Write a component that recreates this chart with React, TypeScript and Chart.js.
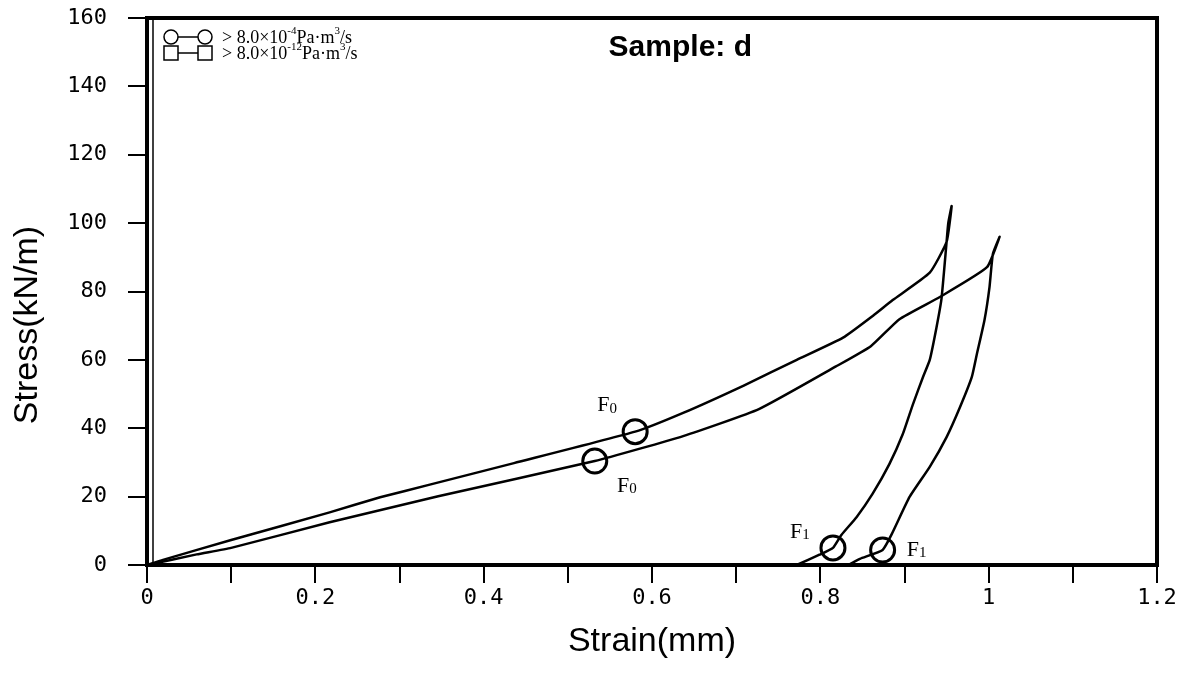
import React, { useEffect, useRef } from 'react';
import { Chart, registerables } from 'chart.js';

Chart.register(...registerables);

// ---- data ----
const seriesNames = ['> 8.0×10^{-4}Pa·m^{3}/s', '> 8.0×10^{-12}Pa·m^{3}/s'];
const seriesMarkers = ['circle', 'rect'];

// Curve A: loading then unloading
const strainA = [0, 0.019, 0.1, 0.217, 0.277, 0.336, 0.436, 0.58, 0.637, 0.709, 0.772, 0.827, 0.863, 0.886, 0.93, 0.95, 0.956,
  0.952, 0.95, 0.944, 0.938, 0.93, 0.922, 0.91, 0.898, 0.882, 0.862, 0.843, 0.825, 0.815, 0.799, 0.772];
const stressA = [0, 1.5, 7.3, 15.4, 19.8, 23.5, 29.8, 39, 44.5, 52.5, 60, 66.5, 73, 77.5, 85.5, 94.5, 105,
  100, 94.5, 78, 69.5, 60, 55, 47, 38.3, 29.5, 20.8, 14, 8.8, 5.0, 3.0, 0];

// Curve B: loading then unloading
const strainB = [0, 0.059, 0.1, 0.217, 0.346, 0.532, 0.637, 0.727, 0.818, 0.86, 0.894, 0.942, 0.998, 1.013,
  1.005, 1.001, 0.995, 0.986, 0.98, 0.966, 0.95, 0.93, 0.906, 0.885, 0.874, 0.847, 0.833];
const stressB = [0, 3.1, 5.0, 12.5, 20.1, 30.4, 37.7, 45.6, 58, 64, 71.9, 78.4, 87.1, 96,
  91, 81.3, 71.6, 61.7, 55, 46.2, 37.4, 28.7, 19.9, 9.1, 4.4, 1.8, 0];

// Characteristic points F0 / F1
const markerStrain = [0.58, 0.532, 0.815, 0.874];
const markerStress = [39, 30.4, 5.0, 4.4];
const markerBase = ['F', 'F', 'F', 'F'];
const markerSub = ['0', '0', '1', '1'];

const xTickLabels = ['0', '0.2', '0.4', '0.6', '0.8', '1', '1.2'];
const yTickLabels = ['0', '20', '40', '60', '80', '100', '120', '140', '160'];

const chartTitle = 'Sample: d';
const xTitle = 'Strain(mm)';
const yTitle = 'Stress(kN/m)';

// label placement (pixels, style only)
const markerLabelOffsets = [[-28, -26], [32, 25], [-33, -16], [34, 0]];

const SERIF = '"Liberation Serif", "Times New Roman", serif';
const SANS = '"Liberation Sans", Arial, sans-serif';
const MONO = '"DejaVu Sans Mono", monospace';

function drawRich(ctx: CanvasRenderingContext2D, text: string, x: number, y: number, size: number) {
  const parts = text.split(/(\^\{[^}]*\})/);
  let cx = x;
  for (const p of parts) {
    if (!p) continue;
    const m = p.match(/^\^\{([^}]*)\}$/);
    if (m) {
      ctx.font = `${Math.round(size * 0.62)}px ${SERIF}`;
      ctx.fillText(m[1], cx, y - size * 0.38);
      cx += ctx.measureText(m[1]).width;
    } else {
      ctx.font = `${size}px ${SERIF}`;
      ctx.fillText(p, cx, y);
      cx += ctx.measureText(p).width;
    }
  }
}

const decorPlugin = {
  id: 'decor',
  afterDatasetsDraw(chart: any) {
    const { ctx, chartArea: a } = chart;
    ctx.save();
    ctx.strokeStyle = '#000';
    ctx.fillStyle = '#000';
    // frame
    ctx.lineWidth = 4;
    ctx.strokeRect(a.left, a.top, a.right - a.left, a.bottom - a.top);
    ctx.lineWidth = 1.5;
    ctx.beginPath();
    ctx.moveTo(a.left + 6, a.top);
    ctx.lineTo(a.left + 6, a.bottom);
    ctx.stroke();

    // title
    ctx.font = `bold 30px ${SANS}`;
    ctx.textAlign = 'center';
    ctx.textBaseline = 'middle';
    ctx.fillText(chartTitle, a.left + (a.right - a.left) * 0.528, a.top + 30);

    // legend
    ctx.textAlign = 'left';
    ctx.textBaseline = 'middle';
    seriesNames.forEach((name, i) => {
      const y = a.top + 19 + i * 16;
      const x1 = a.left + 24;
      const x2 = a.left + 58;
      ctx.lineWidth = 1.5;
      ctx.beginPath();
      ctx.moveTo(x1 + 7, y);
      ctx.lineTo(x2 - 7, y);
      ctx.stroke();
      for (const cx of [x1, x2]) {
        ctx.beginPath();
        if (seriesMarkers[i] === 'circle') ctx.arc(cx, y, 7, 0, Math.PI * 2);
        else ctx.rect(cx - 7, y - 7, 14, 14);
        ctx.stroke();
      }
      drawRich(ctx, name, a.left + 75, y + 1, 18);
    });

    // marker labels
    const meta = chart.getDatasetMeta(2);
    meta.data.forEach((pt: any, i: number) => {
      const [dx, dy] = markerLabelOffsets[i];
      ctx.font = `22px ${SERIF}`;
      const wb = ctx.measureText(markerBase[i]).width;
      ctx.font = `15px ${SERIF}`;
      const ws = ctx.measureText(markerSub[i]).width;
      const x0 = pt.x + dx - (wb + ws) / 2;
      const y0 = pt.y + dy;
      ctx.font = `22px ${SERIF}`;
      ctx.fillText(markerBase[i], x0, y0);
      ctx.font = `15px ${SERIF}`;
      ctx.fillText(markerSub[i], x0 + wb, y0 + 3);
    });

    // axis titles
    ctx.font = `34px ${SANS}`;
    ctx.textAlign = 'center';
    ctx.textBaseline = 'middle';
    ctx.fillText(xTitle, (a.left + a.right) / 2, 642);
    ctx.save();
    ctx.translate(28, 325);
    ctx.rotate(-Math.PI / 2);
    ctx.fillText(yTitle, 0, 0);
    ctx.restore();

    ctx.restore();
  },
};

export default function App() {
  const ref = useRef<HTMLCanvasElement>(null);
  useEffect(() => {
    if (!ref.current) return;
    const toXY = (xs: number[], ys: number[]) => xs.map((x, i) => ({ x, y: ys[i] }));
    const chart = new Chart(ref.current, {
      type: 'scatter',
      data: {
        datasets: [
          {
            label: seriesNames[0],
            data: toXY(strainA, stressA),
            showLine: true,
            borderColor: '#000',
            borderWidth: 2.5,
            pointRadius: 0,
            tension: 0.15,
          },
          {
            label: seriesNames[1],
            data: toXY(strainB, stressB),
            showLine: true,
            borderColor: '#000',
            borderWidth: 2.5,
            pointRadius: 0,
            tension: 0.15,
          },
          {
            label: 'F points',
            data: toXY(markerStrain, markerStress),
            showLine: false,
            pointStyle: 'circle',
            pointRadius: 12,
            borderWidth: 3,
            borderColor: '#000',
            backgroundColor: 'rgba(0,0,0,0)',
          },
        ],
      },
      options: {
        responsive: false,
        animation: false,
        layout: { padding: { left: 0, top: 18, right: 31, bottom: 0 } },
        plugins: { legend: { display: false }, tooltip: { enabled: false }, title: { display: false } },
        scales: {
          x: {
            type: 'linear',
            min: 0,
            max: 1.2,
            afterFit: (s: any) => { s.height = 114; s.paddingLeft = 0; s.paddingRight = 0; s.paddingTop = 0; s.paddingBottom = 0; },
            border: { display: false },
            grid: { drawOnChartArea: false, drawTicks: true, tickLength: 18, color: '#000', lineWidth: 2 },
            ticks: {
              stepSize: 0.1,
              autoSkip: false,
              maxRotation: 0,
              padding: 2,
              color: '#000',
              font: { family: MONO, size: 22 },
              callback: (v: any) => {
                const i = Math.round(Number(v) * 10);
                return i % 2 === 0 ? xTickLabels[i / 2] : '';
              },
            },
            title: { display: false },
          },
          y: {
            type: 'linear',
            min: 0,
            max: 160,
            afterFit: (s: any) => { s.width = 147; s.paddingTop = 0; s.paddingBottom = 0; s.paddingLeft = 0; s.paddingRight = 0; },
            border: { display: false },
            grid: { drawOnChartArea: false, drawTicks: true, tickLength: 19, color: '#000', lineWidth: 2 },
            ticks: {
              stepSize: 20,
              padding: 21,
              color: '#000',
              font: { family: MONO, size: 22 },
              callback: (v: any) => yTickLabels[Math.round(Number(v) / 20)] ?? '',
            },
            title: { display: false },
          },
        },
      },
      plugins: [decorPlugin],
    });
    return () => chart.destroy();
  }, []);
  return (
    <div style={{ position: 'fixed', left: 0, top: 0, width: 1188, height: 679, background: '#fff' }}>
      <canvas ref={ref} width={1188} height={679} style={{ display: 'block' }} />
    </div>
  );
}
